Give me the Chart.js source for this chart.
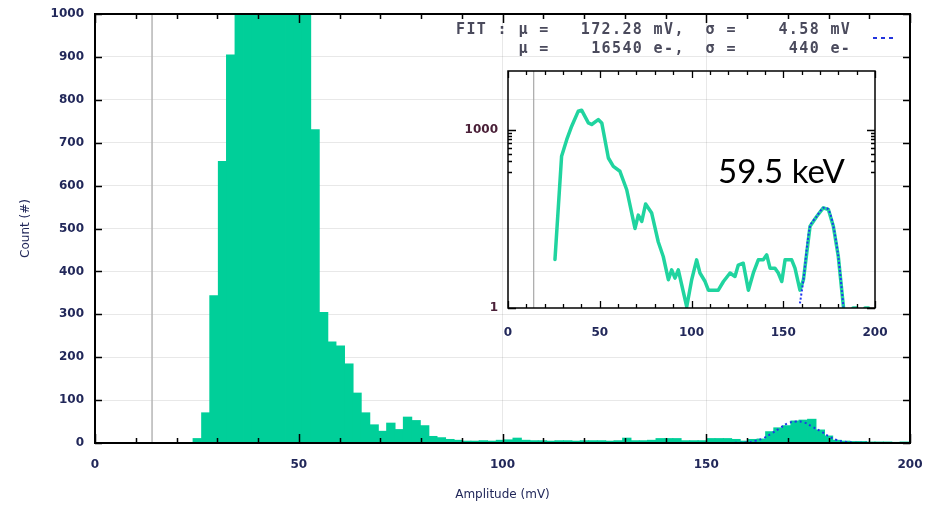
<!DOCTYPE html>
<html>
<head>
<meta charset="utf-8">
<script src="https://cdn.jsdelivr.net/npm/chart.js@4.4.0/dist/chart.umd.min.js"></script>
<style>
  body { margin: 0; background: #fff; }
  #wrap { position: relative; width: 925px; height: 508px; overflow: hidden; }
  #main { position: absolute; left: 0; top: 0; }
  #inset { position: absolute; left: 455px; top: 60px; }
  .fit { position: absolute; left: 456px; top: 20px; font: bold 15px 'DejaVu Sans Mono', monospace; letter-spacing: 1.37px; line-height: 19px; color: #4a4a5c; white-space: pre; }
  .fitkey { position: absolute; left: 873px; top: 37px; width: 21px; height: 2px; background: repeating-linear-gradient(to right, #2233dd 0 4px, transparent 4px 8px); }
  .peak { position: absolute; left: 718px; top: 154px; font: 33px Lato, sans-serif; line-height: 33px; color: #000; }
</style>
</head>
<body>
<div id="wrap">
  <canvas id="main" width="925" height="508"></canvas>
  <canvas id="inset" width="440" height="290"></canvas>
  <div class="fit">FIT : μ =   172.28 mV,  σ =    4.58 mV
      μ =    16540 e-,  σ =     440 e-</div>
  <div class="fitkey"></div>
  <div class="peak">59.5 keV</div>
</div>
<script>
// histogram bins (centre of each bin, mV) and counts
const binAmp = [
  25.1, 27.2, 29.2, 31.3, 33.3, 35.4, 37.5, 39.5, 41.6, 43.7,
  45.7, 47.8, 49.9, 51.9, 54.0, 56.1, 58.1, 60.2, 62.3, 64.3,
  66.4, 68.5, 70.5, 72.6, 74.7, 76.7, 78.8, 80.9, 82.9, 85.0,
  87.1, 89.1, 91.2, 93.3, 95.3, 97.4, 99.5, 101.5, 103.6, 105.7,
  107.7, 109.8, 111.9, 113.9, 116.0, 118.1, 120.1, 122.2, 124.3, 126.3,
  128.4, 130.5, 132.5, 134.6, 136.6, 138.7, 140.8, 142.8, 144.9, 147.0,
  149.0, 151.1, 153.2, 155.2, 157.3, 159.4, 161.4, 163.5, 165.6, 167.6,
  169.7, 171.8, 173.8, 175.9, 178.0, 180.0, 182.1, 184.2, 186.2, 188.3,
  190.4, 192.4, 194.5, 196.6, 198.6
];
const binCounts = [
  10, 70, 343, 656, 904, 1150, 1750, 2150, 1800, 1330,
  1250, 1420, 1480, 1300, 730, 304, 235, 226, 184, 116,
  70, 42, 27, 46, 31, 60, 52, 40, 15, 12,
  8, 6, 4, 4, 5, 4, 6, 7, 11, 6,
  5, 5, 4, 5, 5, 4, 5, 5, 5, 4,
  5, 11, 5, 5, 6, 10, 10, 10, 5, 5,
  5, 10, 10, 10, 8, 4, 8, 9, 26, 35,
  40, 51, 53, 55, 30, 16, 6, 4, 3, 3,
  2, 2, 2, 1, 2
];

// gaussian fit drawn dotted
const fitAmp = [157, 160, 162, 164, 166, 168, 170, 172, 174, 176, 178, 180, 182, 184, 186, 188, 190];
const fitCounts = [0.5, 1.5, 5, 11, 22, 34, 46, 50, 48, 38, 28, 16, 7, 3, 1, 0.5, 0.3];

// inset spectrum, log scale
const insetAmp = [
  25.6, 29.2, 32.0, 34.7, 38.3, 40.1, 43.8, 45.6, 49.2, 51.1,
  54.7, 57.4, 61.0, 64.7, 69.2, 71.0, 72.9, 75.0, 78.3, 81.9,
  84.6, 87.4, 89.2, 91.0, 92.8, 97.4, 100.1, 102.8, 104.6, 107.4,
  109.2, 114.6, 117.4, 121.0, 123.7, 125.5, 128.2, 131.0, 133.7, 136.4,
  139.1, 141.0, 142.8, 145.5, 147.3, 149.2, 151.0, 154.6, 156.4, 159.1,
  161.0, 164.6, 168.2, 171.8, 174.6, 177.3, 180.0, 182.8, 185.0, 188.0,
  190.0, 192.0, 194.5, 196.5
];
const insetCounts = [
  6.6, 363, 694, 1170, 2100, 2180, 1330, 1250, 1510, 1330,
  340, 245, 203, 99, 22, 37, 29, 57, 40, 13,
  7.4, 3, 4.4, 3.2, 4.4, 1.05, 3, 6.5, 3.9, 2.8,
  2, 2, 2.8, 3.9, 3.4, 5.3, 5.7, 2, 3.9, 6.5,
  6.5, 7.9, 4.7, 4.7, 3.9, 2.8, 6.5, 6.5, 4.7, 2,
  3, 24, 35, 49, 46, 24, 7.4, 1.05, null, 1,
  1, null, 1, 1
];
const insetFitAmp = [159.1, 161.0, 164.6, 168.2, 171.8, 174.6, 177.3, 180.0, 182.8];
const insetFitCounts = [1.2, 3, 24, 35, 49, 46, 24, 7.4, 1.05];

const thresholdMv = 14;
const mainXTicks = [0, 50, 100, 150, 200];
const mainXMinor = [0, 10, 20, 30, 40, 50, 60, 70, 80, 90, 100, 110, 120, 130, 140, 150, 160, 170, 180, 190, 200];
const mainYTicks = [0, 100, 200, 300, 400, 500, 600, 700, 800, 900, 1000];
const insetYTicks = [1, 1000];
const insetYMinor = [200, 300, 400, 500, 600, 700, 800, 900];

const labelColor = '#22285a';
const gridColor = 'rgba(0,0,0,0.09)';

function pts(xs, ys) {
  return xs.map((x, i) => ({ x: x, y: ys[i] }));
}

// black frame plus gnuplot style inward ticks on all four sides
function frameTicks(o) {
  return {
    id: 'frameTicks',
    afterDraw(chart) {
      const { ctx, chartArea: a, scales: { x, y } } = chart;
      ctx.save();
      ctx.strokeStyle = '#000';
      ctx.lineWidth = o.tickWidth;
      ctx.beginPath();
      for (const v of o.xMinor) {
        const px = Math.round(x.getPixelForValue(v)) + 0.5;
        const len = o.xMajor.includes(v) ? o.xMajorLen : o.xMinorLen;
        ctx.moveTo(px, a.bottom); ctx.lineTo(px, a.bottom - len);
        ctx.moveTo(px, a.top); ctx.lineTo(px, a.top + len);
      }
      for (const v of o.yMajor.concat(o.yMinor)) {
        const py = Math.round(y.getPixelForValue(v)) + 0.5;
        const len = o.yMajor.includes(v) ? o.yMajorLen : o.yMinorLen;
        ctx.moveTo(a.left, py); ctx.lineTo(a.left + len, py);
        ctx.moveTo(a.right, py); ctx.lineTo(a.right - len, py);
      }
      ctx.stroke();
      ctx.lineWidth = o.frameWidth;
      ctx.strokeRect(a.left, a.top, a.right - a.left, a.bottom - a.top);
      ctx.restore();
    }
  };
}

const tickFont = { family: 'DejaVu Sans', size: 12, weight: 'bold' };
const titleFont = { family: 'DejaVu Sans', size: 12 };

new Chart(document.getElementById('main'), {
  type: 'bar',
  data: {
    datasets: [
      {
        type: 'line', label: 'fit', data: pts(fitAmp, fitCounts),
        borderColor: '#1f35e6', borderWidth: 2, borderDash: [2, 3],
        pointRadius: 0, tension: 0.4, order: 0
      },
      {
        label: 'counts', data: pts(binAmp, binCounts),
        backgroundColor: '#00cf99', borderWidth: 0, inflateAmount: 0.6,
        barPercentage: 1, categoryPercentage: 1, order: 2
      },
      {
        type: 'line', label: 'threshold',
        data: [{ x: thresholdMv, y: 0 }, { x: thresholdMv, y: 1000 }],
        borderColor: '#b5b5b5', borderWidth: 1.5, pointRadius: 0, order: 3
      }
    ]
  },
  options: {
    responsive: false,
    animation: false,
    layout: { padding: { left: 15, right: 15, top: 14, bottom: 2 } },
    plugins: { legend: { display: false }, tooltip: { enabled: false } },
    scales: {
      x: {
        type: 'linear', min: 0, max: 200, offset: false, z: 1,
        afterBuildTicks(s) { s.ticks = mainXTicks.map(v => ({ value: v })); },
        ticks: { padding: 15, font: tickFont, color: labelColor, maxRotation: 0, callback: v => String(v) },
        grid: { color: gridColor, drawTicks: false, offset: false },
        border: { display: false },
        title: { display: true, text: 'Amplitude (mV)', font: titleFont, color: labelColor, padding: { top: 4, bottom: 4 } },
        afterFit(s) { s.height = 63; s.paddingLeft = 0; s.paddingRight = 0; }
      },
      y: {
        min: 0, max: 1000, z: 1,
        afterBuildTicks(s) { s.ticks = mainYTicks.map(v => ({ value: v })); },
        ticks: { padding: 11, font: tickFont, color: labelColor, callback: v => String(v) },
        grid: { color: gridColor, drawTicks: false },
        border: { display: false },
        title: { display: true, text: 'Count (#)', font: titleFont, color: labelColor, padding: { top: 4, bottom: 4 } },
        afterFit(s) { s.width = 80; s.paddingTop = 0; s.paddingBottom = 0; }
      }
    }
  },
  plugins: [frameTicks({
    xMinor: mainXMinor, xMajor: mainXTicks, yMajor: mainYTicks, yMinor: [],
    xMajorLen: 9, xMinorLen: 5, yMajorLen: 7, yMinorLen: 4,
    tickWidth: 1.5, frameWidth: 2
  })]
});

new Chart(document.getElementById('inset'), {
  type: 'line',
  data: {
    datasets: [
      {
        label: 'fit', data: pts(insetFitAmp, insetFitCounts),
        borderColor: '#2238ee', borderWidth: 2, borderDash: [2, 2],
        pointRadius: 0, tension: 0.3, order: 0
      },
      {
        label: 'counts', data: pts(insetAmp, insetCounts),
        borderColor: '#20d49f', borderWidth: 3.5, pointRadius: 0, tension: 0,
        borderJoinStyle: 'round', borderCapStyle: 'round', order: 1
      },
      {
        label: 'threshold',
        data: [{ x: thresholdMv, y: 1 }, { x: thresholdMv, y: 10000 }],
        borderColor: '#a8a8a8', borderWidth: 1.2, pointRadius: 0, order: 2
      }
    ]
  },
  options: {
    responsive: false,
    animation: false,
    layout: { padding: { left: 0, right: 20, top: 11, bottom: 0 } },
    plugins: { legend: { display: false }, tooltip: { enabled: false } },
    scales: {
      x: {
        type: 'linear', min: 0, max: 200,
        afterBuildTicks(s) { s.ticks = mainXTicks.map(v => ({ value: v })); },
        ticks: { padding: 18, font: tickFont, color: labelColor, maxRotation: 0, callback: v => String(v) },
        grid: { display: false, drawTicks: false },
        border: { display: false },
        afterFit(s) { s.height = 42; s.paddingLeft = 0; s.paddingRight = 0; }
      },
      y: {
        type: 'logarithmic', min: 1, max: 10000,
        afterBuildTicks(s) { s.ticks = insetYTicks.map(v => ({ value: v })); },
        ticks: { padding: 10, font: tickFont, color: '#4a2038', callback: v => String(v) },
        grid: { display: false, drawTicks: false },
        border: { display: false },
        afterFit(s) { s.width = 53; s.paddingTop = 0; s.paddingBottom = 0; }
      }
    }
  },
  plugins: [frameTicks({
    xMinor: mainXMinor, xMajor: mainXTicks, yMajor: insetYTicks, yMinor: insetYMinor,
    xMajorLen: 7, xMinorLen: 4, yMajorLen: 8, yMinorLen: 4,
    tickWidth: 1.3, frameWidth: 1.5
  })]
});
</script>
</body>
</html>
